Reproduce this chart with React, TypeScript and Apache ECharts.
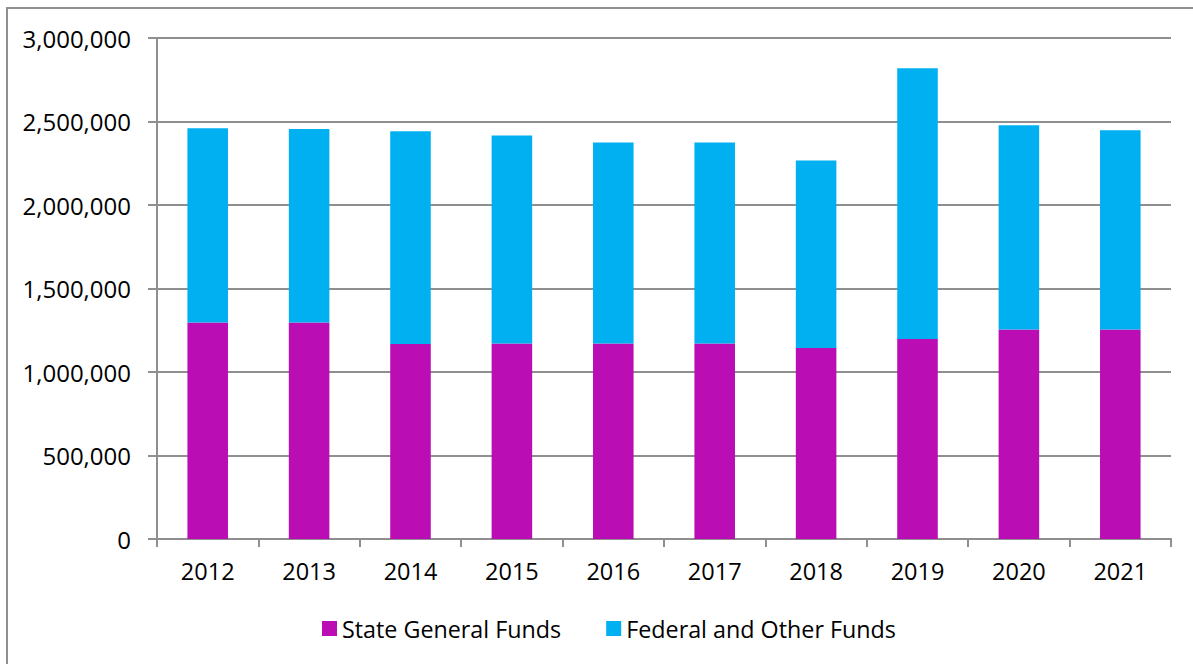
import React, { useEffect, useRef } from "react";
import * as echarts from "echarts";

const years = ["2012", "2013", "2014", "2015", "2016", "2017", "2018", "2019", "2020", "2021"];
const stateGeneralFunds = [1296000, 1296000, 1168000, 1170000, 1170000, 1170000, 1144000, 1198000, 1254000, 1254000];
const federalAndOtherFunds = [1163000, 1159000, 1273000, 1246000, 1204000, 1204000, 1122000, 1621000, 1223000, 1193000];
const seriesNames = ["State General Funds", "Federal and Other Funds"];

const FONT = "'Open Sans', sans-serif";
const LINE = "#8f8f8f";

export default function App() {
  const ref = useRef<HTMLDivElement>(null);
  useEffect(() => {
    document.body.style.margin = "0";
    const chart = echarts.init(ref.current!, null, { renderer: "svg" });
    chart.setOption({
      animation: false,
      backgroundColor: "#ffffff",
      textStyle: { fontFamily: FONT },
      graphic: [
        {
          type: "rect",
          shape: { x: 7, y: 8, width: 1200, height: 700 },
          style: { fill: "none", stroke: LINE, lineWidth: 2 },
          silent: true,
        },
      ],
      grid: { left: 157, right: 22, top: 38, bottom: 125, containLabel: false },
      legend: {
        bottom: 19,
        left: 317,
        itemWidth: 15,
        itemHeight: 15,
        itemGap: 45,
        icon: "rect",
        textStyle: { fontFamily: FONT, fontSize: 23.3, color: "#000", padding: [0, 0, 0, 0] },
        data: seriesNames,
      },
      xAxis: {
        type: "category",
        data: years,
        axisLine: { show: true, lineStyle: { color: LINE, width: 2 } },
        axisTick: { show: true, length: 8, alignWithLabel: false, lineStyle: { color: LINE, width: 2 } },
        axisLabel: { color: "#000", fontFamily: FONT, fontSize: 23.5, margin: 20 },
      },
      yAxis: {
        type: "value",
        min: 0,
        max: 3000000,
        interval: 500000,
        axisLine: { show: true, lineStyle: { color: LINE, width: 2 } },
        axisTick: { show: true, length: 9, lineStyle: { color: LINE, width: 2 } },
        splitLine: { show: true, lineStyle: { color: LINE, width: 2 } },
        axisLabel: {
          color: "#000",
          fontFamily: FONT,
          fontSize: 24,
          margin: 26,
          formatter: (v: number) => v.toLocaleString("en-US"),
        },
      },
      series: [
        {
          name: seriesNames[0],
          type: "bar",
          stack: "total",
          data: stateGeneralFunds,
          barCategoryGap: "60%",
          itemStyle: { color: "#BA0EB4" },
        },
        {
          name: seriesNames[1],
          type: "bar",
          stack: "total",
          data: federalAndOtherFunds,
          barCategoryGap: "60%",
          itemStyle: { color: "#00B0F0" },
        },
      ],
    });
    return () => chart.dispose();
  }, []);
  return <div ref={ref} style={{ width: 1193, height: 664, position: "absolute", left: 0, top: 0 }} />;
}
